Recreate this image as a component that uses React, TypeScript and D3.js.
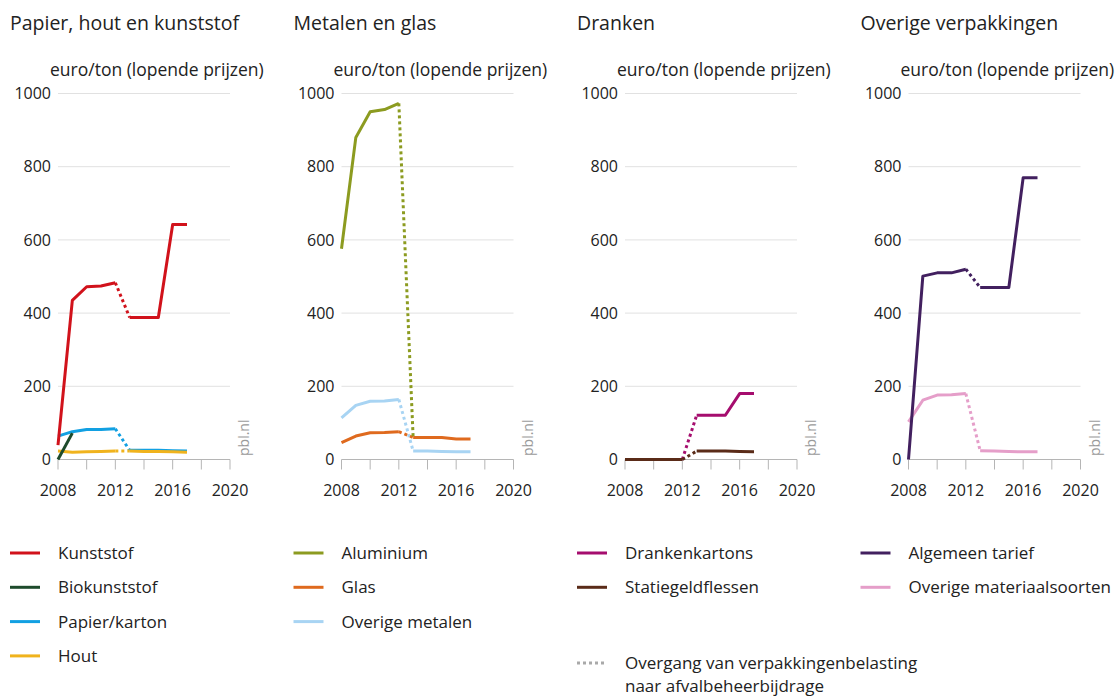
import React from "react";
import * as d3 from "d3";

const years = [2008, 2009, 2010, 2011, 2012, 2013, 2014, 2015, 2016, 2017];
const xTicks = [2008, 2010, 2012, 2014, 2016, 2018, 2020];
const xTickLabels = [2008, 2012, 2016, 2020];
const yTicks = [0, 200, 400, 600, 800, 1000];

const panelTitles = ["Papier, hout en kunststof", "Metalen en glas", "Dranken", "Overige verpakkingen"];
const unitLabel = "euro/ton (lopende prijzen)";

// panel 1
const kunststof = [39, 435, 472, 474, 483, 388, 388, 388, 642, 642];
const biokunststof = [0, 72, null, null, null, null, null, null, null, null];
const papierKarton = [64, 76, 82, 82, 84, 25, 25, 25, 24, 23];
const hout = [23, 20, 21, 22, 23, 23, 22, 22, 21, 20];
// panel 2
const aluminium = [576, 880, 950, 956, 973, 58, null, null, null, null];
const glas = [46, 64, 73, 74, 76, 60, 60, 60, 56, 56];
const overigeMetalen = [114, 148, 159, 160, 164, 23, 23, 22, 21, 21];
// panel 3
const drankenkartons = [0, 0, 0, 0, 0, 121, 121, 121, 180, 180];
const statiegeldflessen = [0, 0, 0, 0, 0, 23, 23, 23, 22, 21];
// panel 4
const algemeenTarief = [0, 501, 510, 510, 520, 470, 470, 470, 770, 770];
const overigeMateriaalsoorten = [103, 162, 176, 177, 180, 24, 23, 22, 21, 21];

const transitionFrom = 2012;
const transitionTo = 2013;
const transitionLabel = ["Overgang van verpakkingenbelasting", "naar afvalbeheerbijdrage"];

type Series = { name: string; color: string; values: (number | null)[] };

const panels: { series: Series[]; drawOrder: number[] }[] = [
  {
    series: [
      { name: "Kunststof", color: "#d1121b", values: kunststof },
      { name: "Biokunststof", color: "#1e4b2c", values: biokunststof },
      { name: "Papier/karton", color: "#12a0e2", values: papierKarton },
      { name: "Hout", color: "#f0b31d", values: hout },
    ],
    drawOrder: [2, 3, 1, 0],
  },
  {
    series: [
      { name: "Aluminium", color: "#8c9b20", values: aluminium },
      { name: "Glas", color: "#df6a1e", values: glas },
      { name: "Overige metalen", color: "#a8d4f3", values: overigeMetalen },
    ],
    drawOrder: [2, 1, 0],
  },
  {
    series: [
      { name: "Drankenkartons", color: "#a50d6e", values: drankenkartons },
      { name: "Statiegeldflessen", color: "#5a2b18", values: statiegeldflessen },
    ],
    drawOrder: [0, 1],
  },
  {
    series: [
      { name: "Algemeen tarief", color: "#42205f", values: algemeenTarief },
      { name: "Overige materiaalsoorten", color: "#e59ec9", values: overigeMateriaalsoorten },
    ],
    drawOrder: [1, 0],
  },
];

const FONT = "'Open Sans', 'Noto Sans', sans-serif";
const W = 1115;
const H = 697;
const panelLeft0 = 58;
const panelStep = 283.5;
const panelWidth = 172;
const yScale = d3.scaleLinear().domain([0, 1000]).range([459.5, 93.5]);

function Panel({ index }: { index: number }) {
  const p = panels[index];
  const left = panelLeft0 + index * panelStep;
  const x = d3.scaleLinear().domain([2008, 2020]).range([left, left + panelWidth]);
  const y = yScale;
  const y0 = y(0);

  const solid = d3
    .line<{ year: number; v: number | null }>()
    .defined((d) => d.v !== null)
    .x((d) => x(d.year))
    .y((d) => y(d.v as number));

  const segs = (vals: (number | null)[]) => {
    const pts = years.map((yr, i) => ({ year: yr, v: vals[i] }));
    const before = pts.map((d) => (d.year <= transitionFrom ? d : { ...d, v: null }));
    const after = pts.map((d) => (d.year >= transitionTo ? d : { ...d, v: null }));
    const tr = pts.filter((d) => (d.year === transitionFrom || d.year === transitionTo) && d.v !== null);
    const afterCount = after.filter((d) => d.v !== null).length;
    return {
      before: solid(before),
      after: afterCount > 1 ? solid(after) : null,
      trans: tr.length === 2 ? solid(tr) : null,
    };
  };

  return (
    <g>
      <text x={left - 48} y={30} fontSize={19.5} fill="#222" fontFamily={FONT}>
        {panelTitles[index]}
      </text>
      <text x={left - 8} y={76} fontSize={17.5} fill="#222" fontFamily={FONT}>
        {unitLabel}
      </text>
      {yTicks.map((t) => (
        <g key={t}>
          {t > 0 && (
            <line x1={x(2008)} x2={x(2020)} y1={y(t)} y2={y(t)} stroke="#e1e1e1" strokeWidth={1} />
          )}
          <text
            x={left - 7}
            y={y(t)}
            dy="0.35em"
            textAnchor="end"
            fontSize={16}
            fill="#222"
            fontFamily={FONT}
          >
            {t}
          </text>
        </g>
      ))}
      <line x1={x(2008)} x2={x(2020)} y1={y0} y2={y0} stroke="#b5b5b5" strokeWidth={1} />
      {xTicks.map((t) => (
        <line key={t} x1={x(t)} x2={x(t)} y1={y0} y2={y0 + 10} stroke="#b5b5b5" strokeWidth={1} />
      ))}
      {xTickLabels.map((t) => (
        <text key={t} x={x(t)} y={496} textAnchor="middle" fontSize={16} fill="#222" fontFamily={FONT}>
          {t}
        </text>
      ))}
      <text
        transform={`translate(${x(2020) + 19},${456}) rotate(-90)`}
        fontSize={14}
        fill="#9a9a9a"
        fontFamily={FONT}
      >
        pbl.nl
      </text>
      {p.drawOrder.map((si) => {
        const s = p.series[si];
        const sg = segs(s.values);
        return (
          <g key={s.name}>
            {sg.before && <path d={sg.before} fill="none" stroke={s.color} strokeWidth={3} strokeLinejoin="round" />}
            {sg.after && <path d={sg.after} fill="none" stroke={s.color} strokeWidth={3} strokeLinejoin="round" />}
            {sg.trans && (
              <path d={sg.trans} fill="none" stroke={s.color} strokeWidth={3} strokeDasharray="3,3" />
            )}
          </g>
        );
      })}
    </g>
  );
}

function Legend() {
  const rowY = (i: number) => 553 + i * 34.3;
  return (
    <g fontFamily={FONT} fontSize={17} fill="#222">
      {panels.map((p, pi) => {
        const lx = 10 + pi * 283.5;
        return (
          <g key={pi}>
            {p.series.map((s, i) => (
              <g key={s.name}>
                <line x1={lx} x2={lx + 30} y1={rowY(i)} y2={rowY(i)} stroke={s.color} strokeWidth={3} />
                <text x={lx + 48} y={rowY(i)} dy="0.35em">
                  {s.name}
                </text>
              </g>
            ))}
          </g>
        );
      })}
      <line x1={577} x2={607} y1={663} y2={663} stroke="#a9a9a9" strokeWidth={3} strokeDasharray="3,3" />
      <text x={625} y={663} dy="0.35em">
        {transitionLabel[0]}
      </text>
      <text x={625} y={686} dy="0.35em">
        {transitionLabel[1]}
      </text>
    </g>
  );
}

export default function App() {
  return (
    <svg
      width={W}
      height={H}
      style={{ position: "absolute", left: 0, top: 0, background: "#fff" }}
    >
      <rect width={W} height={H} fill="#fff" />
      {panels.map((_, i) => (
        <Panel key={i} index={i} />
      ))}
      <Legend />
    </svg>
  );
}
